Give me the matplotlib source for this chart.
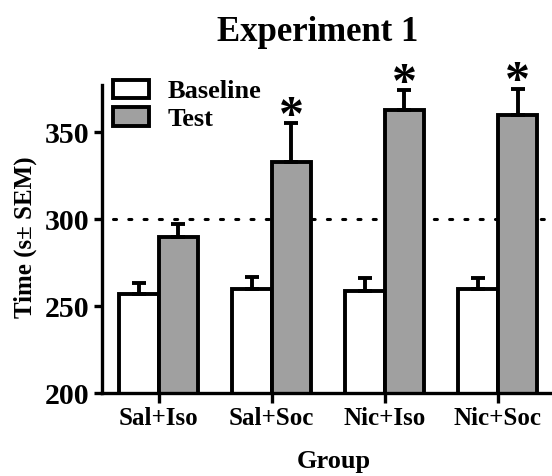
import matplotlib
matplotlib.use('agg')
import matplotlib.pyplot as plt
import numpy as np

groups = ["Sal+Iso", "Sal+Soc", "Nic+Iso", "Nic+Soc"]
baseline = [257, 260, 259, 260]
baseline_sem = [6.5, 7, 7, 6]
test = [290, 333, 363, 360]
test_sem = [7.5, 22, 11, 15]
significant = [False, True, True, True]

plt.rcParams['font.family'] = ['Liberation Serif', 'DejaVu Serif']
plt.rcParams['font.weight'] = 'bold'

fig = plt.figure(figsize=(5.52, 4.76), dpi=100)
ax = fig.add_axes([0.185, 0.174, 0.815, 0.647])

x = np.arange(len(groups))
w = 0.35
lw = 2.8

# reference line at 300 (behind the bars)
ax.plot([-0.4, 3.6], [300, 300], color='k', lw=2.2, linestyle=(0, (1, 4)),
        dash_capstyle='round', zorder=1)

ax.bar(x - w / 2, baseline, w, color='white', edgecolor='k', linewidth=lw,
       label='Baseline', zorder=2)
ax.bar(x + w / 2, test, w, color='#a0a0a0', edgecolor='k', linewidth=lw,
       label='Test', zorder=2)

zeros = [0] * len(groups)
ax.errorbar(x - w / 2, baseline, yerr=[zeros, baseline_sem], fmt='none',
            ecolor='k', elinewidth=lw, capsize=5, capthick=lw, zorder=3)
ax.errorbar(x + w / 2, test, yerr=[zeros, test_sem], fmt='none',
            ecolor='k', elinewidth=lw, capsize=5, capthick=lw, zorder=3)

for i, sig in enumerate(significant):
    if sig:
        ax.text(x[i] + w / 2, test[i] + test_sem[i] + 3, '*', ha='center',
                va='center', fontsize=36, fontweight='bold', clip_on=False)

ax.set_xlim(-0.5, 3.48)
ax.set_ylim(200, 377)
ax.set_yticks([200, 250, 300, 350])
ax.set_xticks(x)
ax.set_xticklabels(groups, fontsize=18, fontweight='bold')
for lab in ax.get_yticklabels():
    lab.set_fontsize(21.5)
    lab.set_fontweight('bold')

for s in ['top', 'right']:
    ax.spines[s].set_visible(False)
for s in ['left', 'bottom']:
    ax.spines[s].set_linewidth(2.4)
ax.tick_params(axis='y', length=6, width=2.4, pad=3)
ax.tick_params(axis='x', length=7, width=2.4, pad=3)

ax.legend(loc='upper left', bbox_to_anchor=(0.205, 0.832),
          bbox_transform=fig.transFigure, frameon=False, fontsize=19,
          handlelength=1.35, handleheight=0.7, handletextpad=0.7,
          labelspacing=0.15, borderpad=0, borderaxespad=0)

fig.text(0.576, 0.931, 'Experiment 1', ha='center', va='center',
         fontsize=25, fontweight='bold')
fig.text(0.045, 0.502, 'Time (s± SEM)', ha='center', va='center',
         rotation=90, fontsize=18, fontweight='bold')
fig.text(0.605, 0.03, 'Group', ha='center', va='center',
         fontsize=19, fontweight='bold')

plt.savefig('out.png', dpi=100)
plt.close()
